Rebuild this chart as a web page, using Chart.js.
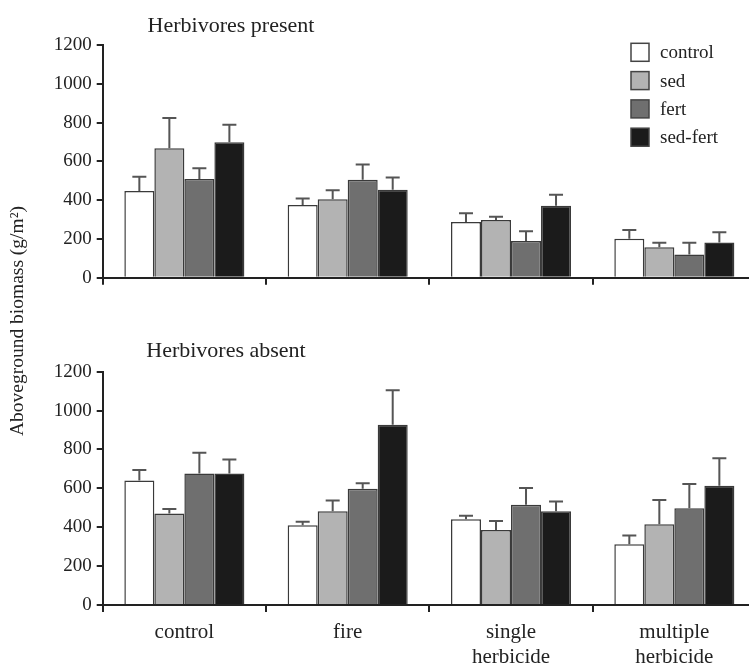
<!DOCTYPE html>
<html><head><meta charset="utf-8">
<script src="https://cdn.jsdelivr.net/npm/chart.js@4.4.1/dist/chart.umd.min.js"></script>
<style>
html,body{margin:0;padding:0;background:#fff;overflow:hidden;width:749px;height:668px;position:relative;}
canvas{position:absolute;left:0;top:0;}
</style></head><body>
<canvas id="topChart" width="760" height="668"></canvas>
<canvas id="bottomChart" width="760" height="668"></canvas>
<script>
// ---- data ----
const categories = ['control', 'fire', ['single', 'herbicide'], ['multiple', 'herbicide']];
const treatments = ['control', 'sed', 'fert', 'sed-fert'];
const treatmentColors = ['#ffffff', '#b3b3b3', '#6f6f6f', '#1b1b1b'];
const yTickValues = [0, 200, 400, 600, 800, 1000, 1200];

// Herbivores present: means and standard errors (g/m^2)
const presentControl = [447, 375, 287, 201];
const presentSed = [667, 405, 297, 157];
const presentFert = [509, 505, 189, 119];
const presentSedFert = [698, 454, 371, 182];
const presentControlErr = [74, 34, 45, 45];
const presentSedErr = [156, 46, 17, 23];
const presentFertErr = [55, 79, 50, 61];
const presentSedFertErr = [91, 63, 57, 52];

// Herbivores absent
const absentControl = [641, 410, 441, 312];
const absentSed = [470, 482, 386, 415];
const absentFert = [677, 598, 516, 497];
const absentSedFert = [677, 927, 482, 614];
const absentControlErr = [53, 18, 18, 46];
const absentSedErr = [24, 55, 46, 125];
const absentFertErr = [106, 28, 86, 125];
const absentSedFertErr = [72, 177, 51, 141];

const SERIF = "'Liberation Serif','Times New Roman','DejaVu Serif',serif";

function makeDatasets(means, errs) {
  return treatments.map((t, i) => ({
    label: t,
    data: means[i],
    errors: errs[i],
    backgroundColor: treatmentColors[i],
    borderColor: '#3a3a3a',
    borderWidth: 1.5,
    borderSkipped: 'start',
    categoryPercentage: 0.735,
    barPercentage: 1.0
  }));
}

const errorBarPlugin = {
  id: 'errorBars',
  afterDatasetsDraw(chart) {
    const ctx = chart.ctx;
    const y = chart.scales.y;
    ctx.save();
    ctx.strokeStyle = '#555';
    ctx.lineWidth = 2;
    chart.data.datasets.forEach((ds, i) => {
      const meta = chart.getDatasetMeta(i);
      meta.data.forEach((bar, j) => {
        const top = y.getPixelForValue(ds.data[j] + ds.errors[j]);
        ctx.beginPath();
        ctx.moveTo(bar.x, bar.y);
        ctx.lineTo(bar.x, top);
        ctx.moveTo(bar.x - 7, top);
        ctx.lineTo(bar.x + 7, top);
        ctx.stroke();
      });
    });
    ctx.restore();
  }
};

const panelTitlePlugin = {
  id: 'panelTitle',
  afterDraw(chart, args, opts) {
    const ctx = chart.ctx;
    const a = chart.chartArea;
    ctx.save();
    ctx.fillStyle = '#222';
    ctx.font = '22px ' + SERIF;
    ctx.textAlign = 'center';
    ctx.textBaseline = 'alphabetic';
    ctx.fillText(opts.text, a.left + opts.dx, a.top - opts.dy);
    if (opts.legend) {
      ctx.font = '19px ' + SERIF;
      ctx.textAlign = 'left';
      ctx.textBaseline = 'middle';
      chart.data.datasets.forEach((ds, i) => {
        const bx = a.right - 125, by = a.top - 1.7 + i * 28.3;
        ctx.fillStyle = ds.backgroundColor;
        ctx.fillRect(bx, by, 18, 18);
        ctx.strokeStyle = '#444';
        ctx.lineWidth = 1.5;
        ctx.strokeRect(bx, by, 18, 18);
        ctx.fillStyle = '#222';
        ctx.fillText(ds.label, bx + 29, by + 10);
      });
    }
    if (opts.yLabel) {
      ctx.save();
      ctx.translate(18, 321);
      ctx.rotate(-Math.PI / 2);
      ctx.font = '19.5px ' + SERIF;
      ctx.textAlign = 'center';
      ctx.textBaseline = 'middle';
      ctx.fillStyle = '#222';
      ctx.fillText(opts.yLabel, 0, 0);
      ctx.restore();
    }
    ctx.restore();
  }
};

function makeOptions(cfg) {
  return {
    responsive: false,
    animation: false,
    devicePixelRatio: 1,
    layout: { padding: { top: cfg.padTop, bottom: cfg.padBottom, left: 0, right: 4 } },
    plugins: {
      legend: { display: false },
      tooltip: { enabled: false },
      title: { display: false },
      panelTitle: cfg.title
    },
    scales: {
      x: {
        type: 'category',
        offset: true,
        grid: { display: true, offset: true, drawOnChartArea: false, drawTicks: true, tickLength: 7, color: '#222', lineWidth: 2 },
        border: { display: true, color: '#222', width: 2 },
        ticks: {
          display: cfg.showX,
          autoSkip: false, maxRotation: 0, minRotation: 0,
          padding: 8,
          color: '#222',
          font: { family: SERIF, size: 21, lineHeight: 1.2 }
        },
        afterFit(scale) { scale.height = cfg.xHeight; }
      },
      y: {
        min: 0, max: 1200,
        afterBuildTicks(scale) { scale.ticks = yTickValues.map(v => ({ value: v })); },
        grid: { display: true, drawOnChartArea: false, drawTicks: true, tickLength: 6, color: '#222', lineWidth: 2 },
        border: { display: true, color: '#222', width: 2 },
        ticks: {
          padding: 5,
          color: '#222',
          font: { family: SERIF, size: 19 },
          callback: v => String(v)
        },
        afterFit(scale) { scale.width = 102.7; }
      }
    }
  };
}

new Chart(document.getElementById('topChart'), {
  type: 'bar',
  data: {
    labels: categories,
    datasets: makeDatasets(
      [presentControl, presentSed, presentFert, presentSedFert],
      [presentControlErr, presentSedErr, presentFertErr, presentSedFertErr])
  },
  options: makeOptions({
    padTop: 45, padBottom: 378, xHeight: 12.3, showX: false,
    title: { text: 'Herbivores present', dx: 128.3, dy: 13.5, legend: true, yLabel: 'Aboveground biomass (g/m²)' }
  }),
  plugins: [errorBarPlugin, panelTitlePlugin]
});

new Chart(document.getElementById('bottomChart'), {
  type: 'bar',
  data: {
    labels: categories,
    datasets: makeDatasets(
      [absentControl, absentSed, absentFert, absentSedFert],
      [absentControlErr, absentSedErr, absentFertErr, absentSedFertErr])
  },
  options: makeOptions({
    padTop: 371.7, padBottom: 0, xHeight: 63, showX: true,
    title: { text: 'Herbivores absent', dx: 123.3, dy: 14.4, legend: false }
  }),
  plugins: [errorBarPlugin, panelTitlePlugin]
});
</script>
</body></html>
